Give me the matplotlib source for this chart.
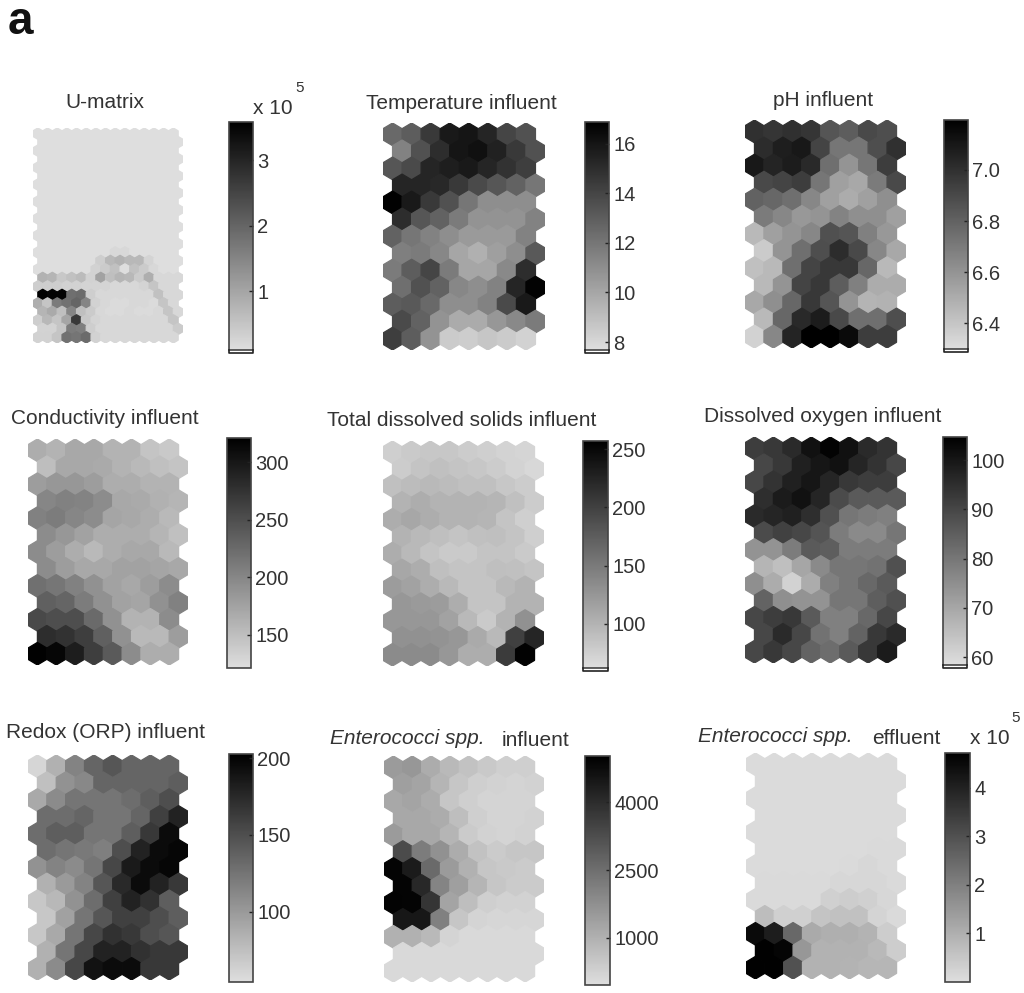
import matplotlib
matplotlib.use("Agg")
import matplotlib.pyplot as plt
from matplotlib.collections import PolyCollection
from matplotlib.colors import LinearSegmentedColormap
from matplotlib.lines import Line2D

plt.rcParams['font.family'] = ['Liberation Sans', 'DejaVu Sans']

W = 1024
H = 993

# U-matrix has the finer grid, 25 rows of 15 cells, in units of 10^5
umatrix = [[0.03] * 15 for i in range(14)] + [
    [0.05, 0.05, 0.05, 0.05, 0.05, 0.05, 0.05, 0.1, 0.2, 0.2, 0.05, 0.05, 0.05, 0.05, 0.05],
    [0.1, 0.1, 0.1, 0.1, 0.1, 0.1, 0.35, 0.7, 0.8, 0.7, 0.7, 0.25, 0.1, 0.1, 0.1],
    [0.1, 0.1, 0.1, 0.1, 0.1, 0.1, 0.3, 0.4, 0.55, 0.0, 0.55, 0.4, 0.2, 0.1, 0.1],
    [0.8, 0.75, 0.45, 0.55, 0.65, 0.3, 1.05, 0.6, 0.75, 0.7, 0.4, 0.85, 0.2, 0.2, 0.2],
    [0.35, 0.35, 0.35, 0.3, 0.3, 0.25, 0.25, 0.25, 0.2, 0.2, 0.2, 0.25, 0.5, 0.2, 0.2],
    [3.6, 3.5, 3.5, 1.85, 1.9, 0.35, 0.2, 0.2, 0.2, 0.2, 0.2, 0.2, 0.55, 0.2, 0.2],
    [0.85, 0.5, 1.65, 1.8, 2.0, 1.5, 0.3, 0.2, 0.15, 0.15, 0.2, 0.2, 0.15, 0.5, 0.2],
    [0.75, 0.92, 0.6, 1.5, 0.6, 0.4, 0.2, 0.15, 0.15, 0.2, 0.15, 0.15, 0.2, 0.5, 0.2],
    [0.35, 0.7, 0.5, 1.0, 2.7, 0.45, 0.25, 0.2, 0.2, 0.2, 0.2, 0.2, 0.2, 0.2, 0.5],
    [0.28, 0.28, 0.5, 1.65, 1.6, 0.35, 0.2, 0.2, 0.2, 0.2, 0.2, 0.2, 0.2, 0.2, 0.4],
    [0.3, 0.3, 0.5, 1.8, 1.75, 1.9, 0.3, 0.2, 0.2, 0.2, 0.2, 0.2, 0.2, 0.2, 0.2],
]

temperature = [
    [12.5, 13, 14.5, 15.8, 16, 15.3, 14, 13.5],
    [11.5, 13.5, 15, 16, 16.2, 15.5, 14.5, 13.5],
    [13.3, 13.8, 15.3, 15.6, 15.8, 15.3, 14.8, 14.3],
    [15.3, 15.3, 15.2, 14.5, 13.8, 13.3, 12.8, 12],
    [16.8, 15.8, 14.5, 13.5, 12, 11, 11, 11],
    [15, 13.3, 12.8, 11.8, 10.8, 10.8, 10.8, 11.5],
    [12.8, 12, 11.5, 11, 10.5, 10.5, 10.5, 11.5],
    [11.6, 11.8, 11.3, 10, 9.6, 10.3, 11, 13.2],
    [11.8, 13, 14, 11.8, 10, 10, 11.2, 15],
    [12.3, 13.5, 12.8, 11.3, 11, 11.5, 15.3, 16.7],
    [13, 13.2, 12.5, 11, 11, 11.5, 13.8, 15.8],
    [13.8, 12.8, 10.8, 9.8, 9.8, 10.6, 11.2, 11.8],
    [14.3, 13, 10.8, 8.5, 8.4, 8.7, 8.5, 8.2],
]

ph = [
    [7.0, 6.98, 7.0, 6.98, 6.85, 6.82, 6.9, 6.88],
    [7.02, 7.07, 7.1, 6.92, 6.72, 6.72, 6.88, 7.0],
    [7.1, 7.05, 7.08, 7.03, 6.75, 6.6, 6.72, 6.95],
    [6.9, 6.92, 6.95, 6.72, 6.55, 6.52, 6.7, 6.9],
    [6.8, 6.78, 6.75, 6.65, 6.55, 6.5, 6.55, 6.62],
    [6.7, 6.65, 6.58, 6.6, 6.67, 6.62, 6.62, 6.55],
    [6.45, 6.55, 6.6, 6.65, 6.87, 6.85, 6.68, 6.58],
    [6.38, 6.6, 6.75, 6.88, 7.02, 6.9, 6.65, 6.52],
    [6.42, 6.45, 6.75, 6.92, 6.97, 6.97, 6.78, 6.45],
    [6.45, 6.6, 6.92, 6.97, 6.82, 6.68, 6.5, 6.5],
    [6.52, 6.62, 6.78, 6.97, 6.85, 6.6, 6.47, 6.48],
    [6.45, 6.78, 7.03, 7.08, 6.9, 6.75, 6.75, 6.88],
    [6.35, 6.65, 7.05, 7.2, 7.2, 7.15, 6.95, 6.95],
]

conductivity = [
    [165, 160, 170, 170, 160, 160, 145, 140],
    [150, 170, 170, 168, 160, 155, 148, 145],
    [180, 185, 185, 180, 165, 165, 160, 160],
    [200, 205, 203, 195, 170, 168, 162, 158],
    [205, 210, 200, 195, 172, 170, 165, 155],
    [195, 185, 175, 165, 165, 165, 158, 148],
    [195, 180, 165, 155, 165, 170, 170, 155],
    [195, 180, 170, 170, 175, 175, 172, 170],
    [220, 215, 205, 190, 175, 170, 180, 195],
    [235, 230, 210, 190, 175, 172, 190, 205],
    [255, 250, 250, 225, 190, 160, 160, 195],
    [280, 275, 265, 235, 190, 155, 155, 180],
    [320, 315, 295, 265, 240, 195, 165, 165],
]

tds = [
    [75, 80, 82, 82, 78, 75, 72, 70],
    [78, 85, 88, 85, 82, 78, 72, 68],
    [88, 92, 95, 92, 88, 88, 82, 78],
    [100, 105, 100, 100, 100, 98, 88, 78],
    [105, 110, 105, 100, 100, 98, 85, 75],
    [100, 95, 90, 85, 88, 90, 85, 75],
    [105, 95, 85, 80, 80, 85, 85, 80],
    [110, 105, 90, 85, 85, 90, 88, 85],
    [120, 115, 105, 95, 85, 85, 95, 100],
    [125, 122, 120, 105, 85, 85, 100, 100],
    [125, 125, 125, 115, 95, 80, 100, 130],
    [130, 130, 128, 125, 108, 95, 200, 225],
    [135, 135, 135, 125, 105, 105, 205, 255],
]

oxygen = [
    [92, 93, 96, 101, 104, 101, 96, 94],
    [90, 93, 98, 100, 101, 97, 94, 90],
    [90, 94, 98, 100, 97, 93, 92, 92],
    [95, 99, 101, 97, 89, 86, 86, 86],
    [96, 97, 98, 95, 88, 80, 79, 78],
    [89, 91, 90, 87, 79, 76, 76, 80],
    [74, 74, 79, 86, 85, 79, 79, 79],
    [67, 65, 70, 76, 80, 80, 81, 88],
    [75, 69, 61, 69, 78, 80, 83, 86],
    [84, 75, 74, 74, 80, 80, 85, 88],
    [90, 92, 93, 86, 78, 78, 83, 90],
    [90, 96, 90, 81, 78, 84, 93, 96],
    [90, 93, 90, 84, 82, 86, 93, 99],
]

redox = [
    [60, 85, 115, 135, 145, 135, 135, 135],
    [75, 105, 112, 135, 135, 135, 135, 140],
    [90, 110, 125, 125, 125, 130, 140, 150],
    [130, 130, 135, 125, 125, 135, 160, 180],
    [130, 140, 140, 125, 125, 140, 165, 195],
    [130, 125, 122, 118, 150, 180, 195, 198],
    [105, 115, 110, 125, 155, 185, 195, 198],
    [85, 100, 115, 145, 175, 195, 180, 165],
    [70, 80, 105, 130, 160, 180, 170, 140],
    [70, 95, 125, 145, 160, 160, 150, 140],
    [70, 90, 125, 155, 170, 165, 150, 145],
    [85, 125, 155, 180, 180, 170, 165, 165],
    [85, 110, 155, 190, 195, 195, 165, 165],
]

entero_in = [
    [1500, 1600, 1100, 800, 600, 450, 300, 300],
    [1400, 1300, 900, 500, 300, 250, 200, 250],
    [1200, 1300, 1100, 500, 300, 200, 200, 200],
    [1200, 1200, 1100, 700, 300, 200, 200, 250],
    [1500, 1200, 1200, 900, 400, 250, 200, 250],
    [3300, 2200, 1700, 1100, 600, 400, 500, 500],
    [4900, 4400, 2600, 1500, 1000, 500, 450, 400],
    [4900, 4100, 2000, 1400, 900, 500, 400, 400],
    [4950, 4900, 3800, 1300, 700, 300, 250, 250],
    [4500, 4500, 2100, 500, 200, 150, 150, 150],
    [1000, 1000, 800, 200, 100, 100, 100, 100],
    [100, 100, 100, 100, 100, 100, 100, 100],
    [100, 100, 100, 100, 100, 100, 100, 100],
]

# units of 10^5
entero_eff = [
    [0.05, 0.05, 0.05, 0.05, 0.05, 0.05, 0.05, 0.05],
    [0.05, 0.05, 0.05, 0.05, 0.05, 0.05, 0.05, 0.05],
    [0.05, 0.05, 0.05, 0.05, 0.05, 0.05, 0.05, 0.05],
    [0.05, 0.05, 0.05, 0.05, 0.05, 0.05, 0.05, 0.05],
    [0.05, 0.05, 0.05, 0.05, 0.05, 0.05, 0.05, 0.05],
    [0.05, 0.05, 0.05, 0.05, 0.05, 0.05, 0.1, 0.1],
    [0.05, 0.05, 0.05, 0.05, 0.05, 0.1, 0.15, 0.1],
    [0.1, 0.1, 0.1, 0.1, 0.15, 0.15, 0.15, 0.1],
    [0.1, 0.1, 0.1, 0.1, 0.3, 0.35, 0.3, 0.15],
    [0.7, 0.3, 0.3, 0.55, 0.6, 0.6, 0.2, 0.1],
    [4.5, 4.1, 2.5, 1.1, 1.0, 1.0, 0.9, 0.35],
    [4.7, 4.6, 1.5, 0.95, 0.95, 0.95, 0.8, 0.35],
    [4.7, 4.7, 3.0, 0.95, 0.95, 0.9, 0.85, 0.85],
]

# data, vmin, vmax, colorbar ticks, tick labels
panels = [
    (umatrix, 0.1, 3.58, [1, 2, 3], ['1', '2', '3']),
    (temperature, 7.68, 16.87, [8, 10, 12, 14, 16], ['8', '10', '12', '14', '16']),
    (ph, 6.30, 7.195, [6.4, 6.6, 6.8, 7.0], ['6.4', '6.6', '6.8', '7.0']),
    (conductivity, 121, 321, [150, 200, 250, 300], ['150', '200', '250', '300']),
    (tds, 62, 257, [100, 150, 200, 250], ['100', '150', '200', '250']),
    (oxygen, 58.4, 104.7, [60, 70, 80, 90, 100], ['60', '70', '80', '90', '100']),
    (redox, 54.5, 202.6, [100, 150, 200], ['100', '150', '200']),
    (entero_in, -37, 5015, [1000, 2500, 4000], ['1000', '2500', '4000']),
    (entero_eff, -0.01, 4.72, [1, 2, 3, 4], ['1', '2', '3', '4']),
]

# pixel boxes: hex map (x0, x1, y0, y1), colorbar (x0, x1, y0, y1), foot under the bar
hex_boxes = [
    (33, 183, 128, 343), (383, 545, 123, 350), (745, 906, 120, 348),
    (28, 188, 439, 665), (383, 544, 441, 666), (745, 906, 437, 663),
    (28, 188, 755, 980), (384, 544, 756, 982), (746, 906, 753, 979),
]
bar_boxes = [
    (229, 253, 122, 350), (585, 609, 122, 350), (944, 968, 120, 349),
    (227, 251, 438, 668), (583, 608, 441, 668), (943, 967, 437, 665),
    (229, 253, 754, 982), (585, 610, 756, 985), (945, 970, 753, 982),
]
has_foot = [True, True, True, False, True, True, False, False, False]

cmap = LinearSegmentedColormap.from_list('grey_r', ['#dedede', '#000000'])
text_color = '#333333'


def box_to_axes(box):
    x0, x1, y0, y1 = box
    return [x0 / W, 1 - y1 / H, (x1 - x0) / W, (y1 - y0) / H]


def px_text(x, y, s, **kw):
    kw.setdefault('color', text_color)
    kw.setdefault('va', 'center')
    return fig.text(x / W, 1 - y / H, s, **kw)


def hex_map(ax, data, vmin, vmax):
    nrows = len(data)
    ncols = len(data[0])
    verts = []
    values = []
    for r in range(nrows):
        for c in range(ncols):
            x = c + 0.5 * (r % 2)
            y = r
            verts.append([(x, y - 2 / 3), (x + 0.5, y - 1 / 3), (x + 0.5, y + 1 / 3),
                          (x, y + 2 / 3), (x - 0.5, y + 1 / 3), (x - 0.5, y - 1 / 3)])
            values.append(data[r][c])
    coll = PolyCollection(verts, array=values, cmap=cmap, edgecolors='face', linewidths=0.9)
    coll.set_clim(vmin, vmax)
    ax.add_collection(coll)
    ax.set_xlim(-0.5, ncols)
    ax.set_ylim(nrows - 1 + 2 / 3, -2 / 3)
    ax.axis('off')
    return coll


fig = plt.figure(figsize=(W / 100, H / 100), dpi=100)

for i in range(9):
    data, vmin, vmax, ticks, labels = panels[i]
    ax = fig.add_axes(box_to_axes(hex_boxes[i]))
    coll = hex_map(ax, data, vmin, vmax)

    cax = fig.add_axes(box_to_axes(bar_boxes[i]))
    cb = fig.colorbar(coll, cax=cax, ticks=ticks)
    cb.set_ticklabels(labels)
    cb.outline.set_edgecolor('#444444')
    cb.outline.set_linewidth(1.2)
    cax.tick_params(axis='y', direction='in', length=3, width=1, color='#222222',
                    labelsize=14.5, labelcolor=text_color, pad=3)

    if has_foot[i]:
        x0, x1, y0, y1 = bar_boxes[i]
        fig.add_artist(Line2D([x0 / W, x0 / W, x1 / W, x1 / W],
                              [1 - y1 / H, 1 - (y1 + 3) / H, 1 - (y1 + 3) / H, 1 - y1 / H],
                              color='#222222', lw=1.2))

px_text(8, 34, 'a', fontsize=33, fontweight='bold', color='#111111', va='baseline')

title_size = 15
px_text(105, 102, 'U-matrix', fontsize=title_size, ha='center')
px_text(461, 103, 'Temperature influent', fontsize=title_size, ha='center')
px_text(823, 100, 'pH influent', fontsize=title_size, ha='center')
px_text(105, 418, 'Conductivity influent', fontsize=title_size, ha='center')
px_text(462, 420, 'Total dissolved solids influent', fontsize=title_size, ha='center')
px_text(823, 417, 'Dissolved oxygen influent', fontsize=title_size, ha='center')
px_text(106, 733, 'Redox (ORP) influent', fontsize=title_size, ha='center')
px_text(330, 739, 'Enterococci spp.', fontsize=title_size, style='italic')
px_text(502, 740, 'influent', fontsize=title_size)
px_text(698, 737, 'Enterococci spp.', fontsize=title_size, style='italic')
px_text(872, 738, 'effluent', fontsize=title_size)

# the x 10^5 multipliers over the two colorbars
px_text(253, 108, 'x 10', fontsize=15)
px_text(295, 88, '5', fontsize=11)
px_text(970, 738, 'x 10', fontsize=15)
px_text(1011, 718, '5', fontsize=11)

fig.savefig('out.png', dpi=100)
